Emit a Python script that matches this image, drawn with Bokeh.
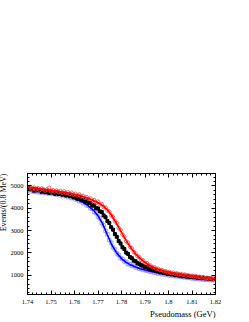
from bokeh.plotting import figure
from bokeh.models import (Range1d, LinearAxis, SingleIntervalTicker,
                          CustomJSTickFormatter, Title)
from bokeh.embed import file_html
from bokeh.resources import INLINE

# ---- binning (0.8 MeV bins from 1.74 to 1.82 GeV) ----
bin_lo = 1.74
bin_w = 0.0008
n_bins = 100
mass = [round(bin_lo + bin_w * (i + 0.5), 5) for i in range(n_bins)]

black_counts = [
    4920, 4850, 4880, 4790, 4860, 4800, 4830, 4740, 4800, 4720,
    4780, 4690, 4760, 4700, 4650, 4720, 4640, 4690, 4610, 4660,
    4570, 4620, 4540, 4580, 4490, 4520, 4430, 4470, 4380, 4400,
    4300, 4330, 4240, 4230, 4120, 4130, 4000, 3990, 3860, 3830,
    3680, 3600, 3430, 3340, 3150, 3040, 2840, 2720, 2530, 2420,
    2250, 2170, 2010, 1950, 1810, 1760, 1650, 1620, 1530, 1510,
    1440, 1420, 1350, 1360, 1290, 1300, 1230, 1240, 1180, 1190,
    1130, 1150, 1100, 1110, 1060, 1080, 1030, 1050, 1000, 1020,
    980, 990, 950, 975, 935, 955, 915, 930, 900, 915,
    880, 900, 865, 885, 850, 865, 835, 850, 820, 835]

red_counts = [
    4880, 4960, 4850, 4930, 4840, 4910, 4820, 4890, 4860, 4790,
    4850, 4920, 4760, 4820, 4750, 4800, 4720, 4780, 4700, 4760,
    4680, 4720, 4640, 4700, 4610, 4650, 4570, 4620, 4530, 4560,
    4470, 4500, 4420, 4440, 4330, 4370, 4250, 4300, 4170, 4190,
    4050, 4040, 3900, 3850, 3680, 3610, 3420, 3330, 3120, 3030,
    2820, 2730, 2520, 2450, 2270, 2200, 2040, 1970, 1850, 1800,
    1690, 1660, 1550, 1540, 1440, 1430, 1350, 1350, 1280, 1290,
    1220, 1230, 1170, 1180, 1120, 1140, 1090, 1110, 1060, 1080,
    1030, 1050, 1010, 1030, 980, 1000, 960, 975, 940, 955,
    910, 925, 885, 905, 865, 880, 845, 865, 830, 845]

blue_counts = [
    4850, 4760, 4820, 4740, 4790, 4720, 4760, 4700, 4780, 4690,
    4740, 4660, 4720, 4640, 4700, 4610, 4650, 4580, 4630, 4550,
    4590, 4500, 4640, 4460, 4490, 4400, 4410, 4320, 4330, 4230,
    4240, 4130, 4120, 4000, 3980, 3840, 3790, 3630, 3540, 3340,
    3230, 2990, 2830, 2580, 2450, 2240, 2150, 1970, 1910, 1770,
    1720, 1620, 1590, 1500, 1490, 1410, 1420, 1340, 1350, 1280,
    1300, 1230, 1250, 1190, 1210, 1150, 1170, 1110, 1130, 1070,
    1090, 1040, 1060, 1010, 1030, 985, 1000, 960, 980, 940,
    960, 915, 935, 895, 915, 875, 890, 850, 870, 835,
    850, 820, 835, 800, 820, 790, 805, 775, 795, 770]

# ---- fitted curves, sampled every 2 MeV ----
fit_mass = [round(1.74 + 0.002 * i, 4) for i in range(41)]

black_fit = [4900, 4860, 4830, 4790, 4760, 4730, 4700, 4660, 4620, 4570,
             4510, 4440, 4360, 4260, 4130, 3970, 3760, 3460, 3100, 2700,
             2330, 2030, 1780, 1600, 1470, 1370, 1290, 1220, 1160, 1110,
             1070, 1030, 1000, 970, 945, 920, 900, 880, 860, 840, 820]

red_fit = [4950, 4910, 4880, 4850, 4820, 4790, 4770, 4740, 4710, 4670,
           4630, 4580, 4510, 4440, 4350, 4250, 4120, 3930, 3650, 3300,
           2920, 2550, 2230, 1950, 1740, 1570, 1430, 1330, 1250, 1180,
           1130, 1090, 1055, 1020, 990, 960, 930, 900, 875, 850, 830]

blue_fit = [4900, 4850, 4810, 4770, 4740, 4700, 4660, 4620, 4570, 4510,
            4440, 4350, 4240, 4100, 3920, 3660, 3300, 2800, 2330, 1990,
            1740, 1570, 1450, 1360, 1290, 1230, 1180, 1130, 1085, 1045,
            1010, 980, 950, 925, 900, 875, 855, 835, 815, 795, 775]

x_label = "Pseudomass (GeV)"
y_label = "Events/(0.8 MeV)"

X0, X1 = 1.74, 1.82
Y0, Y1 = 130, 5560

FONT = "Liberation Serif"

p = figure(width=245, height=320,
           x_range=Range1d(X0, X1), y_range=Range1d(Y0, Y1),
           output_backend="svg", toolbar_location=None,
           x_axis_location=None, y_axis_location=None,
           min_border_left=27, min_border_right=26,
           min_border_top=173, min_border_bottom=26,
           background_fill_color="white", border_fill_color="white")
p.styles = {"margin-left": "-4px"}
p.outline_line_color = "black"
p.outline_line_width = 1
p.grid.visible = False

fmt = CustomJSTickFormatter(code="return (Math.round(tick*100)/100).toString();")
yfmt = CustomJSTickFormatter(code="return Math.round(tick).toString();")


def style_axis(ax, show_labels, standoff, size="7px"):
    ax.major_tick_in = 4
    ax.major_tick_out = 0
    ax.minor_tick_in = 2
    ax.minor_tick_out = 0
    ax.axis_line_color = "black"
    ax.major_tick_line_color = "black"
    ax.minor_tick_line_color = "black"
    ax.major_label_text_font = FONT
    ax.major_label_text_color = "black"
    ax.major_label_standoff = standoff
    if show_labels:
        ax.major_label_text_font_size = size
    else:
        ax.major_label_text_font_size = "0px"
        ax.major_label_text_alpha = 0


xb = LinearAxis(ticker=SingleIntervalTicker(interval=0.01, num_minor_ticks=5), formatter=fmt)
style_axis(xb, True, 5, "6.5px")
p.add_layout(xb, "below")
xt = LinearAxis(ticker=SingleIntervalTicker(interval=0.01, num_minor_ticks=5), formatter=fmt)
style_axis(xt, False, 0)
p.add_layout(xt, "above")

yl = LinearAxis(ticker=SingleIntervalTicker(interval=1000, num_minor_ticks=5), formatter=yfmt)
style_axis(yl, True, 4, "6.5px")
p.add_layout(yl, "left")
yr = LinearAxis(ticker=SingleIntervalTicker(interval=1000, num_minor_ticks=5), formatter=yfmt)
style_axis(yr, False, 0)
p.add_layout(yr, "right")

# blue
p.scatter(mass, blue_counts, marker="square", size=3.5, fill_color=None,
          line_color="#8a8aff", line_width=0.8)
p.line(fit_mass, blue_fit, line_color="#0000ff", line_width=1.6)
# black
p.scatter(mass, black_counts, marker="square", size=3, fill_color="black",
          line_color="black")
p.line(fit_mass, black_fit, line_color="black", line_width=1.6)
# red
p.scatter(mass, red_counts, marker="circle", size=3.5, fill_color=None,
          line_color="#ff4040", line_width=0.8)
p.line(fit_mass, red_fit, line_color="#ff0000", line_width=1.6)

p.add_layout(Title(text=x_label, align="right", text_font=FONT,
                   text_font_size="8.5px", text_font_style="normal",
                   text_line_height=0.9,
                   text_color="black", standoff=0, offset=0), "below")
p.add_layout(Title(text=y_label, align="right", text_font=FONT,
                   text_font_size="8px", text_font_style="normal",
                   text_line_height=0.9,
                   text_color="black", standoff=0, offset=0), "left")

open("out.html", "w").write(file_html(p, INLINE))
